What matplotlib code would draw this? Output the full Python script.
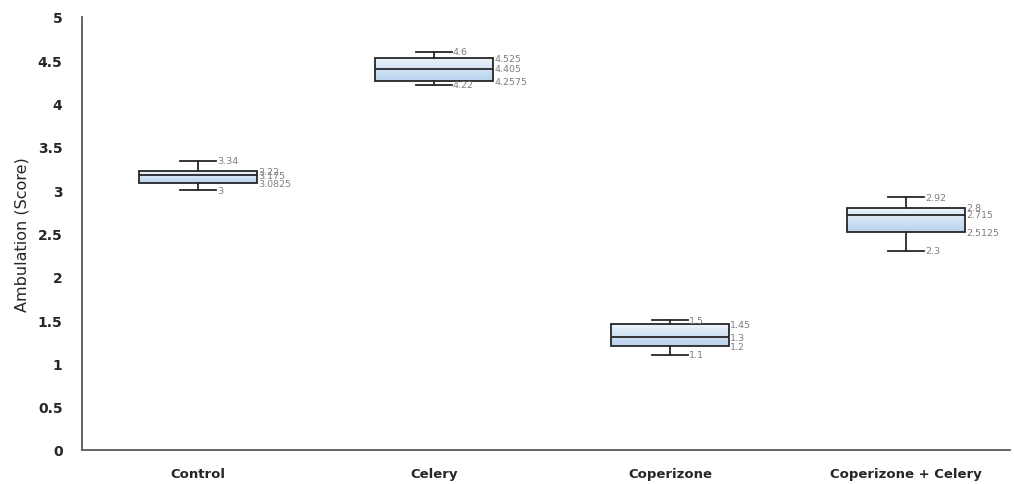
import matplotlib

matplotlib.use("Agg")
import matplotlib.pyplot as plt
import numpy as np

GROUPS = ["Control", "Celery", "Coperizone", "Coperizone + Celery"]
MINS = [3.0, 4.22, 1.1, 2.3]
Q1S = [3.0825, 4.2575, 1.2, 2.5125]
MEDIANS = [3.175, 4.405, 1.3, 2.715]
Q3S = [3.22, 4.525, 1.45, 2.8]
MAXS = [3.34, 4.6, 1.5, 2.92]
Y_TICKS = [0, 0.5, 1, 1.5, 2, 2.5, 3, 3.5, 4, 4.5, 5]


def fmt(v):
    return f"{v:g}"


fig = plt.figure(figsize=(10.14, 4.85), dpi=100)
ax = fig.add_axes([82 / 1014, 34 / 485, 928 / 1014, 433 / 485])

positions = np.arange(1, len(GROUPS) + 1)
stats = [
    dict(med=m, q1=a, q3=b, whislo=lo, whishi=hi, fliers=[], label=g)
    for g, lo, a, m, b, hi in zip(GROUPS, MINS, Q1S, MEDIANS, Q3S, MAXS)
]
edge = "#262626"
bp = ax.bxp(
    stats,
    positions=positions,
    widths=0.5,
    patch_artist=True,
    showfliers=False,
    boxprops=dict(facecolor="none", edgecolor=edge, linewidth=1.3),
    medianprops=dict(color=edge, linewidth=1.3),
    whiskerprops=dict(color=edge, linewidth=1.3),
    capprops=dict(color=edge, linewidth=1.3),
    capwidths=0.15,
)

# vertical gradient inside each box
grad = np.linspace(0, 1, 64).reshape(-1, 1)
cmap = matplotlib.colors.LinearSegmentedColormap.from_list("boxfill", ["#b7d2ec", "#eef4fb"])
for pos, lo, hi, box in zip(positions, Q1S, Q3S, bp["boxes"]):
    im = ax.imshow(grad, extent=[pos - 0.25, pos + 0.25, lo, hi], origin="lower",
                   aspect="auto", cmap=cmap, zorder=box.get_zorder() - 0.1)
    im.set_clip_path(box)

label_kw = dict(color="#7f7f7f", fontsize=6.8, va="center", ha="left")
for pos, lo, a, m, b, hi in zip(positions, MINS, Q1S, MEDIANS, Q3S, MAXS):
    ax.text(pos + 0.08, hi, fmt(hi), **label_kw)
    ax.text(pos + 0.08, lo, fmt(lo), **label_kw)
    ax.text(pos + 0.255, b, fmt(b), **label_kw)
    ax.text(pos + 0.255, m, fmt(m), **label_kw)
    ax.text(pos + 0.255, a, fmt(a), **label_kw)

ax.set_xlim(1 - 116 / 236, 1 + 812 / 236)
ax.set_ylim(0, 5)
ax.set_yticks(Y_TICKS)
ax.set_yticklabels([fmt(t) for t in Y_TICKS], fontsize=10, fontweight="bold", color="#262626")
ax.set_xticks(positions)
ax.set_xticklabels(GROUPS, fontsize=9.5, fontweight="bold", color="#262626")
ax.tick_params(axis="both", length=0)
ax.tick_params(axis="y", pad=14)
ax.tick_params(axis="x", pad=12)
ax.set_ylabel("Ambulation (Score)", fontsize=11.5, color="#262626", labelpad=6)

for side in ("top", "right"):
    ax.spines[side].set_visible(False)
for side in ("left", "bottom"):
    ax.spines[side].set_color("#595959")
    ax.spines[side].set_linewidth(1.3)

fig.savefig("out.png", dpi=100)
